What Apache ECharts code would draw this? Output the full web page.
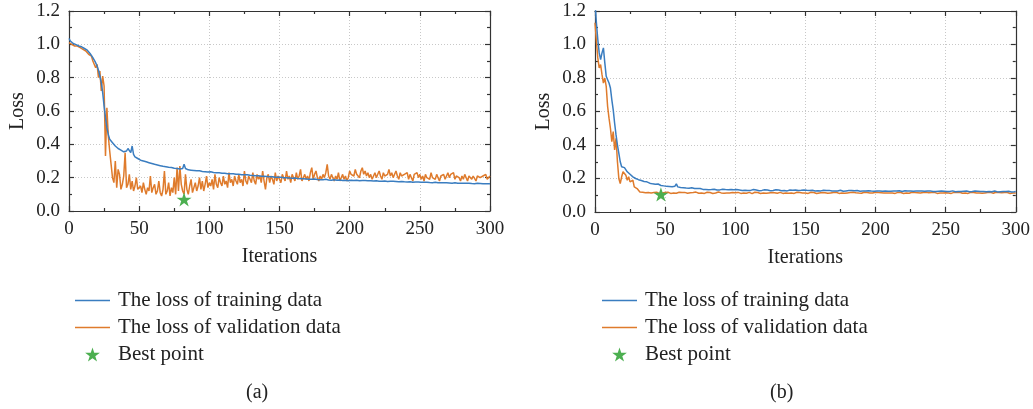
<!DOCTYPE html>
<html>
<head>
<meta charset="utf-8">
<script src="https://cdn.jsdelivr.net/npm/echarts@6/dist/echarts.min.js"></script>
<style>
html,body{margin:0;padding:0;background:#fff;}
#chart{width:1033px;height:409px;}
</style>
</head>
<body>
<div id="chart"></div>
<script>
// ---- data (iterations 0..300) ----
const xTicks = [0, 50, 100, 150, 200, 250, 300];
const yTicks = ['0.0', '0.2', '0.4', '0.6', '0.8', '1.0', '1.2'];

const trainA = [
1.035,1.02,1.01,1.005,1.0,0.998,0.995,0.99,0.988,0.985,
0.98,0.975,0.97,0.965,0.955,0.945,0.935,0.92,0.905,0.89,
0.87,0.845,0.81,0.77,0.71,0.63,0.56,0.5,0.46,0.43,
0.42,0.41,0.4,0.39,0.385,0.375,0.37,0.365,0.36,0.355,
0.345,0.36,0.375,0.385,0.35,0.39,0.34,0.325,0.32,0.315,
0.31,0.305,0.305,0.3,0.298,0.295,0.292,0.29,0.287,0.285,
0.283,0.28,0.278,0.276,0.275,0.272,0.27,0.268,0.266,0.265,
0.264,0.262,0.26,0.261,0.258,0.256,0.257,0.255,0.253,0.252,
0.25,0.255,0.28,0.255,0.248,0.247,0.246,0.245,0.244,0.243,
0.242,0.241,0.24,0.241,0.238,0.237,0.238,0.236,0.235,0.234,
0.233,0.235,0.232,0.231,0.232,0.23,0.229,0.23,0.228,0.227,
0.226,0.227,0.225,0.224,0.225,0.223,0.222,0.223,0.221,0.22,
0.22,0.221,0.219,0.218,0.219,0.217,0.216,0.217,0.215,0.214,
0.214,0.213,0.214,0.212,0.211,0.212,0.21,0.209,0.21,0.208,
0.208,0.207,0.208,0.206,0.205,0.206,0.204,0.203,0.204,0.202,
0.202,0.203,0.201,0.2,0.201,0.199,0.2,0.198,0.199,0.197,
0.197,0.198,0.196,0.195,0.196,0.194,0.195,0.193,0.194,0.192,
0.193,0.191,0.192,0.19,0.191,0.192,0.19,0.189,0.19,0.188,
0.189,0.187,0.188,0.19,0.187,0.186,0.188,0.185,0.186,0.187,
0.186,0.185,0.184,0.186,0.185,0.183,0.184,0.185,0.183,0.182,
0.185,0.184,0.186,0.183,0.184,0.185,0.183,0.182,0.184,0.183,
0.182,0.183,0.181,0.182,0.18,0.181,0.182,0.18,0.179,0.181,
0.18,0.179,0.18,0.178,0.179,0.18,0.178,0.177,0.179,0.178,
0.177,0.178,0.176,0.177,0.178,0.176,0.175,0.177,0.176,0.175,
0.176,0.174,0.175,0.176,0.174,0.173,0.175,0.174,0.173,0.174,
0.172,0.173,0.174,0.172,0.171,0.173,0.172,0.171,0.172,0.17,
0.171,0.172,0.17,0.169,0.171,0.17,0.169,0.17,0.168,0.169,
0.17,0.168,0.169,0.167,0.168,0.169,0.167,0.166,0.168,0.167,
0.166,0.167,0.168,0.166,0.165,0.167,0.166,0.165,0.166,0.164,
0.165,0.166,0.164,0.165,0.163,0.164,0.165,0.163,0.164,0.163,
0.164
];

const valA = [
1.01,1.01,1.0,1.0,0.99,0.99,0.99,0.98,0.98,0.97,
0.97,0.96,0.96,0.95,0.94,0.95,0.93,0.9,0.91,0.86,
0.88,0.8,0.84,0.72,0.81,0.75,0.33,0.62,0.45,0.36,
0.28,0.2,0.17,0.3,0.14,0.25,0.22,0.13,0.16,0.21,
0.35,0.14,0.16,0.22,0.13,0.18,0.12,0.15,0.2,0.13,
0.12,0.15,0.11,0.17,0.13,0.1,0.14,0.12,0.21,0.11,
0.14,0.16,0.1,0.12,0.18,0.11,0.09,0.13,0.24,0.1,
0.12,0.17,0.09,0.14,0.11,0.2,0.1,0.26,0.12,0.27,
0.16,0.12,0.1,0.22,0.13,0.1,0.15,0.19,0.11,0.14,
0.17,0.12,0.15,0.2,0.13,0.18,0.12,0.16,0.21,0.14,
0.17,0.15,0.19,0.13,0.22,0.16,0.14,0.2,0.17,0.15,
0.21,0.16,0.18,0.14,0.23,0.17,0.19,0.15,0.21,0.18,
0.16,0.22,0.17,0.19,0.15,0.24,0.18,0.16,0.21,0.19,
0.17,0.23,0.18,0.16,0.22,0.19,0.21,0.17,0.24,0.18,
0.13,0.2,0.22,0.17,0.21,0.19,0.16,0.23,0.18,0.21,
0.19,0.17,0.22,0.2,0.18,0.24,0.19,0.21,0.17,0.22,
0.2,0.18,0.23,0.19,0.21,0.25,0.18,0.2,0.22,0.19,
0.21,0.18,0.23,0.26,0.19,0.22,0.24,0.2,0.18,0.21,
0.19,0.22,0.2,0.23,0.28,0.21,0.19,0.22,0.2,0.18,
0.21,0.19,0.23,0.18,0.2,0.22,0.19,0.21,0.18,0.2,
0.24,0.22,0.23,0.21,0.25,0.22,0.23,0.2,0.24,0.26,
0.22,0.24,0.21,0.23,0.2,0.22,0.19,0.21,0.23,0.2,
0.22,0.24,0.21,0.19,0.23,0.21,0.2,0.22,0.25,0.21,
0.23,0.2,0.22,0.24,0.21,0.19,0.23,0.21,0.2,0.22,
0.21,0.23,0.19,0.22,0.2,0.18,0.22,0.21,0.23,0.2,
0.22,0.19,0.21,0.18,0.22,0.2,0.21,0.19,0.23,0.2,
0.21,0.19,0.22,0.2,0.18,0.21,0.2,0.22,0.19,0.21,
0.23,0.2,0.22,0.21,0.23,0.19,0.21,0.22,0.2,0.18,
0.21,0.19,0.22,0.2,0.18,0.21,0.22,0.19,0.21,0.2,
0.18,0.21,0.22,0.2,0.19,0.21,0.2,0.22,0.19,0.2,
0.21
];

const trainB = [
1.25,1.13,1.03,0.95,0.91,0.95,0.98,0.89,0.81,0.79,
0.77,0.74,0.67,0.61,0.53,0.46,0.4,0.35,0.3,0.27,
0.28,0.265,0.255,0.24,0.23,0.225,0.215,0.21,0.205,0.2,
0.197,0.193,0.19,0.188,0.184,0.182,0.178,0.18,0.175,0.172,
0.173,0.168,0.17,0.166,0.163,0.167,0.161,0.158,0.162,0.156,
0.157,0.153,0.156,0.152,0.155,0.151,0.15,0.154,0.168,0.15,
0.149,0.146,0.15,0.145,0.147,0.143,0.146,0.142,0.141,0.145,
0.142,0.14,0.137,0.141,0.136,0.14,0.136,0.135,0.139,0.134,
0.136,0.133,0.137,0.134,0.132,0.136,0.133,0.131,0.135,0.132,
0.133,0.136,0.131,0.134,0.13,0.133,0.132,0.135,0.13,0.133,
0.131,0.134,0.13,0.132,0.135,0.129,0.132,0.13,0.133,0.128,
0.132,0.129,0.131,0.134,0.128,0.131,0.13,0.127,0.132,0.129,
0.13,0.133,0.128,0.131,0.129,0.127,0.132,0.128,0.13,0.133,
0.128,0.131,0.129,0.127,0.131,0.128,0.13,0.126,0.129,0.131,
0.127,0.13,0.128,0.131,0.126,0.129,0.127,0.13,0.128,0.132,
0.142,0.13,0.127,0.129,0.126,0.13,0.128,0.125,0.129,0.127,
0.129,0.126,0.128,0.13,0.125,0.128,0.126,0.129,0.127,0.125,
0.128,0.126,0.129,0.125,0.127,0.13,0.126,0.124,0.128,0.126,
0.125,0.128,0.126,0.129,0.124,0.127,0.125,0.128,0.126,0.124,
0.127,0.125,0.128,0.126,0.124,0.127,0.129,0.125,0.126,0.124,
0.127,0.125,0.123,0.126,0.128,0.124,0.126,0.125,0.127,0.124,
0.126,0.124,0.127,0.125,0.123,0.126,0.124,0.127,0.125,0.123,
0.125,0.127,0.124,0.126,0.123,0.125,0.127,0.124,0.122,0.125,
0.124,0.126,0.123,0.125,0.127,0.124,0.122,0.125,0.123,0.126,
0.124,0.122,0.125,0.123,0.126,0.124,0.122,0.125,0.123,0.124,
0.126,0.123,0.125,0.122,0.124,0.126,0.123,0.121,0.124,0.122,
0.125,0.123,0.121,0.124,0.122,0.125,0.123,0.121,0.124,0.122,
0.123,0.125,0.122,0.124,0.121,0.123,0.125,0.122,0.124,0.121,
0.123,0.122,0.124,0.121,0.123,0.125,0.122,0.12,0.123,0.121,
0.124,0.122,0.12,0.123,0.121,0.124,0.122,0.12,0.123,0.121,
0.122
];

const valB = [
1.13,1.02,0.92,0.86,0.88,0.82,0.77,0.8,0.75,0.63,
0.56,0.5,0.42,0.48,0.37,0.44,0.3,0.2,0.17,0.21,
0.24,0.25,0.22,0.19,0.21,0.18,0.17,0.19,0.15,0.16,
0.14,0.13,0.12,0.125,0.118,0.122,0.115,0.12,0.116,0.121,
0.114,0.119,0.116,0.112,0.118,0.113,0.11,0.108,0.113,0.11,
0.116,0.112,0.118,0.114,0.111,0.117,0.113,0.119,0.112,0.115,
0.118,0.113,0.116,0.111,0.117,0.114,0.112,0.118,0.115,0.111,
0.116,0.113,0.119,0.114,0.112,0.117,0.113,0.116,0.111,0.115,
0.118,0.112,0.116,0.114,0.111,0.117,0.113,0.115,0.119,0.112,
0.114,0.117,0.112,0.116,0.113,0.118,0.114,0.111,0.116,0.113,
0.115,0.112,0.117,0.114,0.111,0.116,0.113,0.118,0.112,0.115,
0.117,0.113,0.11,0.115,0.118,0.112,0.116,0.114,0.111,0.117,
0.113,0.116,0.112,0.118,0.114,0.111,0.116,0.113,0.115,0.119,
0.112,0.115,0.117,0.113,0.111,0.116,0.114,0.118,0.112,0.115,
0.113,0.117,0.111,0.115,0.118,0.113,0.116,0.112,0.114,0.117,
0.113,0.116,0.111,0.115,0.118,0.112,0.116,0.114,0.111,0.116,
0.114,0.111,0.117,0.113,0.115,0.119,0.112,0.116,0.114,0.111,
0.116,0.113,0.118,0.114,0.111,0.116,0.113,0.115,0.112,0.117,
0.114,0.111,0.116,0.113,0.118,0.112,0.115,0.117,0.113,0.116,
0.112,0.115,0.118,0.113,0.116,0.111,0.114,0.117,0.113,0.115,
0.118,0.113,0.116,0.112,0.115,0.119,0.114,0.117,0.113,0.116,
0.114,0.118,0.113,0.116,0.111,0.115,0.117,0.112,0.116,0.114,
0.111,0.116,0.113,0.117,0.112,0.115,0.118,0.113,0.116,0.112,
0.115,0.117,0.113,0.111,0.116,0.114,0.118,0.112,0.115,0.113,
0.116,0.112,0.117,0.114,0.111,0.116,0.113,0.118,0.114,0.112,
0.115,0.117,0.113,0.116,0.111,0.114,0.117,0.112,0.116,0.113,
0.118,0.114,0.112,0.116,0.113,0.117,0.111,0.115,0.118,0.113,
0.116,0.112,0.114,0.117,0.113,0.115,0.112,0.116,0.114,0.111,
0.116,0.113,0.117,0.114,0.112,0.115,0.118,0.113,0.116,0.112,
0.115,0.113,0.117,0.112,0.116,0.114,0.111,0.116,0.113,0.115,
0.114
];

const bestA = [[82, 0.07]];
const bestB = [[47, 0.105]];

const seriesNames = ['The loss of training data', 'The loss of validation data', 'Best point'];
const captions = ['(a)', '(b)'];
</script>
<script>
const FONT = "'Liberation Serif', 'DejaVu Serif', serif";
const BLUE = '#3a7dc0';
const ORANGE = '#df7b2c';
const GREEN = '#4caf50';
const STAR = 'path://M50,0 L61.2,34.5 L97.6,34.5 L68.2,55.9 L79.4,90.5 L50,69.1 L20.6,90.5 L31.8,55.9 L2.4,34.5 L38.8,34.5 Z';
const LINE_ICON = 'path://M0,0 L35,0 L35,1.6 L0,1.6 Z';

const chart = echarts.init(document.getElementById('chart'), null, {renderer: 'canvas'});

const grids = [
  {left: 69, top: 11, width: 421, height: 200},
  {left: 595, top: 11, width: 422, height: 201}
];

function xAxes(gi) {
  const base = {
    gridIndex: gi, type: 'value', min: 0, max: 300, interval: 50,
    axisLine: {show: true, onZero: false, lineStyle: {color: '#333', width: 1.2}},
    axisTick: {show: true, inside: true, length: 5, lineStyle: {color: '#333', width: 1.2}},
    minorTick: {show: true, splitNumber: 2, length: 3, lineStyle: {color: '#333', width: 1.2}},
  };
  return [
    Object.assign({}, base, {
      position: 'bottom',
      name: 'Iterations', nameLocation: 'middle', nameGap: 36,
      nameTextStyle: {fontFamily: FONT, fontSize: 20, color: '#222'},
      axisLabel: {show: true, margin: 9, fontFamily: FONT, fontSize: 19, color: '#222'},
      splitLine: {show: true, lineStyle: {color: '#c8c8c8', type: [1, 2], width: 1}}
    }),
    Object.assign({}, base, {
      position: 'top', axisLabel: {show: false}, splitLine: {show: false}
    })
  ];
}
function yAxes(gi) {
  const base = {
    gridIndex: gi, type: 'value', min: 0, max: 1.2, interval: 0.2,
    axisLine: {show: true, onZero: false, lineStyle: {color: '#333', width: 1.2}},
    axisTick: {show: true, inside: true, length: 5, lineStyle: {color: '#333', width: 1.2}},
    minorTick: {show: true, splitNumber: 2, length: 3, lineStyle: {color: '#333', width: 1.2}},
  };
  return [
    Object.assign({}, base, {
      position: 'left',
      name: 'Loss', nameLocation: 'middle', nameGap: 41,
      nameTextStyle: {fontFamily: FONT, fontSize: 20, color: '#222'},
      axisLabel: {show: true, margin: 9, fontFamily: FONT, fontSize: 19, color: '#222',
        formatter: v => yTicks[Math.round(v / 0.2)]},
      splitLine: {show: true, lineStyle: {color: '#c8c8c8', type: [1, 2], width: 1}}
    }),
    Object.assign({}, base, {
      position: 'right', axisLabel: {show: false}, splitLine: {show: false}
    })
  ];
}

function toPairs(arr) { return arr.map((v, i) => [i, v]); }

function lineSeries(name, data, color, xi, yi) {
  return {
    name, type: 'line', data: toPairs(data), xAxisIndex: xi, yAxisIndex: yi,
    symbol: 'none', lineStyle: {color, width: 1.5}, itemStyle: {color},
    animation: false, clip: true, z: name.indexOf('training') >= 0 ? 3 : 2
  };
}
function starSeries(name, data, xi, yi) {
  return {
    name, type: 'scatter', data, xAxisIndex: xi, yAxisIndex: yi,
    symbol: STAR, symbolSize: 15, symbolKeepAspect: true,
    itemStyle: {color: GREEN, opacity: 1}, animation: false, z: 5
  };
}

function legend(left) {
  return {
    left, top: 285, orient: 'vertical', itemWidth: 35, itemHeight: 14, itemGap: 6,
    data: [
      {name: seriesNames[0], icon: LINE_ICON},
      {name: seriesNames[1], icon: LINE_ICON},
      {name: seriesNames[2], icon: STAR, itemStyle: {color: GREEN, opacity: 1}}
    ],
    textStyle: {fontFamily: FONT, fontSize: 21, color: '#222', lineHeight: 21, padding: [0, 0, 0, 3]},
    selectedMode: false
  };
}

const option = {
  backgroundColor: '#ffffff',
  grid: grids,
  xAxis: xAxes(0).concat(xAxes(1)),
  yAxis: yAxes(0).concat(yAxes(1)),
  legend: [legend(70), legend(597)],
  series: [
    lineSeries(seriesNames[0], trainA, BLUE, 0, 0),
    lineSeries(seriesNames[1], valA, ORANGE, 0, 0),
    starSeries(seriesNames[2], bestA, 0, 0),
    lineSeries(seriesNames[0], trainB, BLUE, 2, 2),
    lineSeries(seriesNames[1], valB, ORANGE, 2, 2),
    starSeries(seriesNames[2], bestB, 2, 2)
  ],
  graphic: [
    {type: 'text', left: 246, top: 383, style: {text: captions[0], font: "20px 'Liberation Serif', serif", fill: '#222'}},
    {type: 'text', left: 770, top: 383, style: {text: captions[1], font: "20px 'Liberation Serif', serif", fill: '#222'}}
  ]
};
chart.setOption(option);
</script>
</body>
</html>
